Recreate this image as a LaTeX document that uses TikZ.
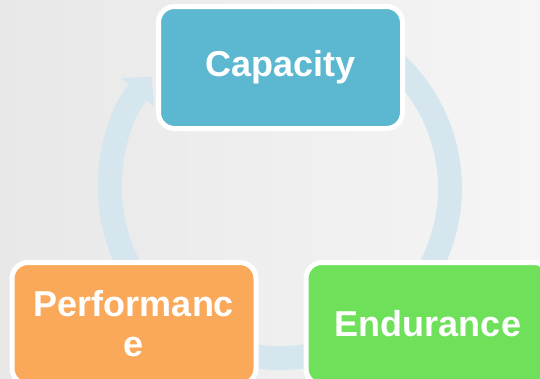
\documentclass[tikz,border=0pt]{standalone}
\usepackage{fontspec}
\setmainfont{Liberation Sans}
\usetikzlibrary{arrows.meta}

\tikzset{every picture/.style={line width=0.75pt}}
\tikzset{
  stagebox/.style={draw=white, line width=3.75pt, rounded corners=12pt,
    minimum width=183pt, minimum height=91.5pt, inner sep=0pt,
    text=white, font=\fontsize{27}{30}\selectfont\bfseries, align=center},
  cyclearrow/.style={draw={rgb,255:red,214;green,230;blue,238}, line width=18pt,
    -{Triangle[length=16pt,width=32pt]}}
}

\begin{document}
\begin{tikzpicture}[x=0.75pt,y=0.75pt,yscale=-1,xscale=1]
\useasboundingbox (0,0) rectangle (540,379);
\clip (0,0) rectangle (540,379);

%Background
\shade [left color={rgb,255:red,232;green,232;blue,232}, right color={rgb,255:red,245;green,245;blue,245}] (0,0) rectangle (540,379);

%Cycle arc [start hidden under Capacity]
\coordinate (arcstart) at (338.1,28.3);
\draw [cyclearrow] (arcstart) arc [start angle=-70, end angle=221, radius=170];

% Stage Node
\node [stagebox, fill={rgb,255:red,91;green,184;blue,208}] (capacity) at (280.5,67.5) {Capacity};
% Stage Node
\node [stagebox, fill={rgb,255:red,250;green,169;blue,90}] (performance) at (134,323.5) {Performanc\\e};
% Stage Node
\node [stagebox, fill={rgb,255:red,110;green,224;blue,90}] (endurance) at (428,323.5) {Endurance};

\end{tikzpicture}
\end{document}
